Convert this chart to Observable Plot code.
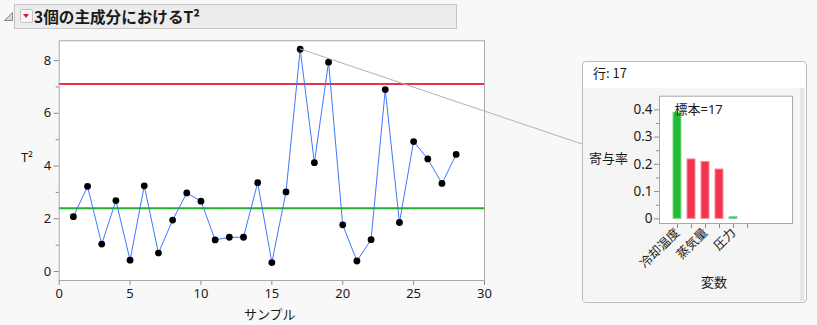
<!DOCTYPE html>
<html><head><meta charset="utf-8">
<script src="https://cdn.jsdelivr.net/npm/d3@7"></script>
<script src="https://cdn.jsdelivr.net/npm/@observablehq/plot@0.6"></script>
<style>
body{margin:0;background:#f8f8f8;font-family:"Noto Sans","Noto Sans CJK JP",sans-serif;color:#1a1a1a;}
#page{position:relative;width:817px;height:325px;overflow:hidden;}
.abs{position:absolute;}
#titlebar{left:14px;top:4px;width:441px;height:23px;background:#ececec;border:1px solid #c5c5c5;}
#title{left:34px;top:4.5px;font-weight:bold;font-size:15.6px;line-height:22px;font-family:"Noto Sans CJK JP",sans-serif;}
#btn{left:20px;top:9px;width:11px;height:12px;border:1px solid #c4c4c4;border-radius:2px;background:#f7f7f7;}
#btn:after{content:"";position:absolute;left:2px;top:4px;border-left:3.5px solid transparent;border-right:3.5px solid transparent;border-top:4px solid #d81e2a;}
.lbl{font-size:13px;font-family:"Noto Sans","Noto Sans CJK JP",sans-serif;white-space:nowrap;}
#panel{left:582px;top:61px;width:223px;height:240px;background:#fff;border:1px solid #bcbcbc;border-radius:4px;}
#inner{left:583px;top:88px;width:222px;height:213px;background:#f5f5f5;}
#strip{left:800px;top:88px;width:4px;height:213px;background:#e6e6e6;}
</style></head><body><div id="page">
<svg class="abs" style="left:3px;top:11px" width="11" height="11"><path d="M1.5,9.5 L9.5,9.5 L9.5,1.5 Z" fill="#d8d8d8" stroke="#8a8a8a" stroke-width="1"/></svg>
<div id="titlebar" class="abs"></div>
<div id="btn" class="abs"></div>
<div id="title" class="abs">3個の主成分におけるT²</div>
<div class="abs lbl" style="left:21px;top:148px;">T²</div>
<div class="abs lbl" style="left:244px;top:304px;font-family:'Noto Sans CJK JP',sans-serif;">サンプル</div>
<div id="panel" class="abs"></div>
<div id="inner" class="abs"></div>
<div id="strip" class="abs"></div>
<div class="abs lbl" style="left:593px;top:63px;font-family:'Noto Sans CJK JP',sans-serif;">行: 17</div>
<div class="abs lbl" style="left:589px;top:148px;font-family:'Noto Sans CJK JP',sans-serif;">寄与率</div>
<div class="abs lbl" style="left:701px;top:272px;font-family:'Noto Sans CJK JP',sans-serif;">変数</div>
<div id="mainchart" class="abs" style="left:0;top:32px"></div>
<div id="insetchart" class="abs" style="left:583px;top:88px"></div>
<svg id="leader" class="abs" style="left:0;top:0;pointer-events:none" width="817" height="325"></svg>
</div>
<script>
// ---- data ----
const samples = [1,2,3,4,5,6,7,8,9,10,11,12,13,14,15,16,17,18,19,20,21,22,23,24,25,26,27,28];
const t2 = [2.08,3.23,1.04,2.69,0.43,3.25,0.70,1.95,2.98,2.67,1.20,1.30,1.30,3.37,0.34,3.02,8.43,4.13,7.94,1.77,0.40,1.21,6.90,1.86,4.93,4.27,3.34,4.44];
const ucl = 7.11;
const centerLine = 2.40;
const xTicks = [0,5,10,15,20,25,30];
const yTicks = [0,2,4,6,8];
const yMinor = [1,3,5,7];

const variables = ["冷却温度","燃料","蒸気量","蒸気温度","圧力","MW"];
const contributions = [0.389,0.218,0.209,0.181,0.006,0];
const signs = ["+","-","-","-","+","-"];
const insetTicks = [0,0.1,0.2,0.3,0.4];
const insetMinor = [0.05,0.15,0.25,0.35];
const selectedRow = 17;

const tbl = samples.map((s,i)=>({s, t2:t2[i]}));
const ctb = variables.map((v,i)=>({v, c:contributions[i], sign:signs[i]}));

const font = '"Noto Sans","Noto Sans CJK JP",sans-serif';

const main = Plot.plot({
  width: 500, height: 293,
  marginLeft: 58.7, marginRight: 16, marginTop: 8.3, marginBottom: 45,
  style: {fontFamily: font, fontSize: "13px", background: "transparent", color: "#1a1a1a", overflow: "visible"},
  x: {domain: [0,30]},
  y: {domain: [-0.34, 8.75]},
  marks: [
    Plot.frame({fill: "white", stroke: null}),
    Plot.ruleY([ucl], {stroke: "#e8334a", strokeWidth: 2}),
    Plot.ruleY([centerLine], {stroke: "#22b02c", strokeWidth: 2}),
    Plot.line(tbl, {x: "s", y: "t2", stroke: "#3c78ff", strokeWidth: 1}),
    Plot.dot(tbl, {x: "s", y: "t2", r: 3.4, fill: "black", stroke: null}),
    Plot.axisX({ticks: xTicks, tickSize: 5, tickPadding: 3, label: null, stroke: "#8c8c8c", fill: "#1a1a1a"}),
    Plot.axisY({ticks: yTicks, tickSize: 5, tickPadding: 3, label: null, stroke: "#8c8c8c", fill: "#1a1a1a"}),
    Plot.axisY({ticks: yMinor, tickSize: 3, text: null, label: null, stroke: "#8c8c8c"}),
    Plot.frame({stroke: "#a8a8a8"})
  ]
});
document.getElementById("mainchart").append(main);

const inset = Plot.plot({
  width: 217, height: 212,
  marginLeft: 76, marginRight: 8, marginTop: 7.7, marginBottom: 77,
  style: {fontFamily: font, fontSize: "13px", background: "transparent", color: "#1a1a1a", overflow: "visible"},
  x: {type: "band", domain: variables, range: [80.4, 177], padding: 0.45},
  y: {domain: [-0.017, 0.45]},
  marks: [
    Plot.frame({fill: "white", stroke: null}),
    Plot.barY(ctb, {x: "v", y: "c", fill: d => d.sign === "+" ? "#22bb33" : "#f2344e",
      stroke: d => d.sign === "+" ? "#7fd987" : "#f88c9b", strokeWidth: 1}),
    Plot.text([`標本=${selectedRow}`], {frameAnchor: "top-left", dx: 15, dy: 13.6, lineAnchor: "middle", textAnchor: "start", fill: "#1a1a1a", fontSize: 13}),
    Plot.axisX({tickSize: 5, tickPadding: 2, tickRotate: -45, label: null, fontSize: 12.5,
      tickFormat: (d) => variables.indexOf(d) % 2 === 0 ? d : "", stroke: "#8c8c8c", fill: "#1a1a1a"}),
    Plot.axisY({ticks: insetTicks, tickSize: 5, tickPadding: 2, label: null, fontSize: 13.5,
      tickFormat: d => d === 0 ? "0" : d.toFixed(1), stroke: "#8c8c8c", fill: "#1a1a1a"}),
    Plot.axisY({ticks: insetMinor, tickSize: 3, text: null, label: null, stroke: "#8c8c8c"}),
    Plot.frame({stroke: "#a8a8a8"})
  ]
});
document.getElementById("insetchart").append(inset);

// leader line from the selected point to the panel
const xs = main.scale("x"), ys = main.scale("y");
const sel = tbl.find(d => d.s === selectedRow);
const x1 = xs.apply(sel.s), y1 = 32 + ys.apply(sel.t2);
const panel = document.getElementById("panel");
const x2 = panel.offsetLeft, y2 = 144;
d3.select("#leader").append("line")
  .attr("x1", x1).attr("y1", y1).attr("x2", x2).attr("y2", y2)
  .attr("stroke", "#b4b4b4").attr("stroke-width", 1);
</script>
</body></html>
